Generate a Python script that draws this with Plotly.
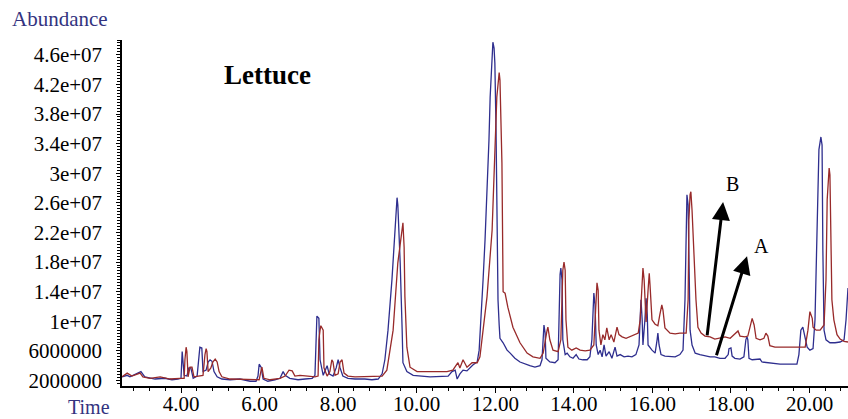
import plotly.graph_objects as go

# Total ion chromatograms of lettuce extracts (retention time in min, abundance in millions of counts)
time_a = [2.50, 2.63, 2.70, 2.91, 2.98, 3.08, 3.34, 3.59, 3.77, 3.92, 4.00, 4.03, 4.08, 4.15, 4.20, 4.25, 4.31,
          4.41, 4.46, 4.48, 4.53, 4.56, 4.64, 4.69, 4.74, 4.79, 4.84, 4.92, 5.04, 5.25, 5.50, 5.76, 5.91, 5.96,
          5.99, 6.04, 6.09, 6.21, 6.39, 6.52, 6.60, 6.65, 6.77, 6.98, 7.16, 7.34, 7.41, 7.44, 7.46, 7.51, 7.54,
          7.62, 7.72, 7.77, 7.87, 7.95, 8.00, 8.05, 8.12, 8.25, 8.43, 8.68, 8.86, 9.02, 9.12, 9.19, 9.27, 9.37,
          9.45, 9.50, 9.52, 9.58, 9.63, 9.65, 9.75, 9.91, 10.34, 10.59, 10.80, 10.90, 10.98, 11.03, 11.10, 11.18,
          11.28, 11.43, 11.54, 11.59, 11.64, 11.69, 11.74, 11.79, 11.84, 11.87, 11.92, 11.94, 11.97, 11.99, 12.02,
          12.04, 12.07, 12.10, 12.12, 12.20, 12.30, 12.38, 12.50, 12.63, 12.76, 12.88, 13.01, 13.14, 13.19, 13.22,
          13.24, 13.27, 13.29, 13.39, 13.52, 13.60, 13.62, 13.65, 13.67, 13.70, 13.72, 13.78, 13.83, 13.90, 13.98,
          14.06, 14.13, 14.23, 14.34, 14.41, 14.46, 14.49, 14.51, 14.54, 14.57, 14.62, 14.67, 14.72, 14.77, 14.82,
          14.90, 14.97, 15.05, 15.10, 15.18, 15.28, 15.38, 15.48, 15.58, 15.66, 15.69, 15.71, 15.74, 15.76, 15.81,
          15.84, 15.87, 15.89, 15.99, 16.07, 16.12, 16.14, 16.17, 16.22, 16.32, 16.45, 16.58, 16.70, 16.78, 16.83,
          16.86, 16.88, 16.91, 16.93, 16.96, 17.01, 17.09, 17.21, 17.34, 17.47, 17.59, 17.72, 17.85, 17.93, 17.95,
          18.00, 18.03, 18.10, 18.23, 18.33, 18.38, 18.41, 18.43, 18.46, 18.54, 18.66, 18.74, 18.79, 18.99, 19.25,
          19.50, 19.68, 19.73, 19.78, 19.83, 19.89, 19.94, 20.01, 20.09, 20.14, 20.19, 20.24, 20.29, 20.32, 20.34,
          20.37, 20.42, 20.52, 20.65, 20.78, 20.88, 20.93, 20.98]
abund_a = [2.5, 2.7, 2.5, 3.0, 3.2, 2.5, 2.2, 2.3, 2.1, 2.2, 2.3, 5.9, 2.7, 2.6, 3.7, 3.7, 2.3,
           2.6, 4.8, 6.5, 6.4, 3.2, 3.4, 4.5, 4.8, 4.6, 3.2, 2.5, 2.2, 2.1, 2.2, 1.9, 1.9, 2.6,
           4.2, 3.8, 2.2, 1.9, 2.1, 2.3, 3.2, 2.7, 2.3, 2.1, 2.2, 2.3, 2.7, 8.8, 10.7, 10.4, 4.8,
           2.7, 4.0, 2.9, 2.6, 3.7, 4.8, 3.7, 2.6, 2.3, 2.2, 2.2, 2.1, 2.2, 2.9, 4.8, 8.8, 15.6,
           23.3, 26.7, 25.7, 17.9, 8.8, 4.4, 3.2, 2.7, 2.5, 2.5, 2.6, 3.2, 3.4, 2.2, 2.9, 3.4,
           3.3, 4.1, 4.5, 6.1, 10.2, 15.6, 21.0, 26.8, 34.5, 40.3, 46.7, 47.7, 46.9, 44.9, 35.8,
           23.7, 12.9, 9.5, 7.7, 7.1, 6.1, 5.7, 5.0, 4.5, 4.2, 4.0, 3.8, 4.0, 4.8, 8.8,
           9.5, 8.4, 5.0, 4.5, 4.4, 4.8, 10.2, 16.3, 17.2, 15.6, 7.5, 5.5, 5.7, 5.2, 5.0,
           5.5, 4.9, 4.8, 4.8, 5.2, 7.5, 12.9, 13.8, 12.2, 6.8, 5.5, 6.1, 5.2, 6.8, 5.3,
           5.9, 5.0, 6.5, 5.3, 5.5, 5.2, 5.3, 5.2, 5.5, 6.8, 11.5, 12.9, 10.2, 6.8, 10.2,
           13.1, 10.9, 6.8, 6.1, 5.7, 7.5, 8.4, 6.8, 5.5, 5.3, 5.2, 5.2, 5.5, 6.1, 12.9,
           25.0, 27.1, 25.7, 15.6, 8.8, 6.8, 5.7, 5.5, 5.3, 5.2, 5.2, 5.0, 5.0, 5.5, 6.3,
           6.4, 5.3, 5.0, 4.9, 5.2, 7.5, 7.9, 7.5, 5.0, 4.8, 4.8, 4.9, 4.5, 4.4, 4.2,
           4.2, 4.2, 5.5, 8.8, 9.2, 7.7, 6.5, 6.1, 6.3, 10.2, 23.7, 33.2, 34.9, 33.8, 19.6,
           8.8, 7.5, 7.1, 7.1, 7.2, 7.5, 10.2, 14.5]

time_b = [2.50, 2.63, 2.75, 2.96, 3.03, 3.21, 3.47, 3.72, 3.97, 4.08, 4.10, 4.13, 4.15, 4.18, 4.23, 4.28, 4.33,
          4.43, 4.56, 4.61, 4.64, 4.66, 4.69, 4.76, 4.81, 4.87, 4.92, 4.97, 5.04, 5.25, 5.50, 5.76, 5.99, 6.04,
          6.06, 6.11, 6.27, 6.52, 6.65, 6.75, 6.83, 6.90, 7.03, 7.23, 7.41, 7.49, 7.51, 7.54, 7.56, 7.62, 7.64,
          7.72, 7.79, 7.84, 7.87, 7.92, 8.00, 8.05, 8.10, 8.15, 8.25, 8.43, 8.68, 8.94, 9.12, 9.24, 9.32, 9.40,
          9.52, 9.63, 9.65, 9.68, 9.70, 9.75, 9.83, 10.01, 10.77, 10.92, 11.00, 11.05, 11.10, 11.18, 11.28, 11.41,
          11.54, 11.61, 11.69, 11.79, 11.92, 11.99, 12.04, 12.10, 12.12, 12.17, 12.20, 12.25, 12.32, 12.45, 12.63,
          12.81, 12.96, 13.14, 13.22, 13.32, 13.34, 13.39, 13.47, 13.60, 13.67, 13.72, 13.75, 13.78, 13.80, 13.85,
          13.95, 14.06, 14.16, 14.29, 14.41, 14.51, 14.57, 14.59, 14.62, 14.64, 14.69, 14.74, 14.79, 14.84, 14.90,
          14.95, 15.02, 15.07, 15.10, 15.15, 15.23, 15.33, 15.43, 15.53, 15.64, 15.69, 15.74, 15.76, 15.79, 15.84,
          15.89, 15.92, 15.94, 15.99, 16.07, 16.14, 16.19, 16.24, 16.27, 16.32, 16.45, 16.58, 16.70, 16.86, 16.91,
          16.93, 16.96, 16.98, 17.01, 17.06, 17.11, 17.16, 17.24, 17.34, 17.47, 17.59, 17.72, 17.85, 17.98, 18.10,
          18.18, 18.23, 18.36, 18.43, 18.51, 18.54, 18.59, 18.64, 18.74, 18.84, 18.89, 18.94, 18.99, 19.12, 19.50,
          19.89, 19.96, 20.01, 20.07, 20.09, 20.17, 20.27, 20.37, 20.42, 20.45, 20.50, 20.52, 20.55, 20.57, 20.62,
          20.70, 20.78, 20.88, 20.98]
abund_b = [2.5, 3.0, 2.6, 3.0, 2.5, 2.3, 2.5, 2.2, 2.3, 2.3, 4.8, 6.5, 5.9, 2.5, 3.8, 3.8, 2.5,
           2.6, 2.7, 5.5, 6.3, 5.9, 3.2, 3.7, 4.5, 4.9, 4.5, 3.2, 2.5, 2.2, 2.2, 2.1, 2.1, 3.4,
           3.8, 2.3, 2.1, 2.3, 2.6, 3.4, 3.3, 2.6, 2.7, 2.6, 2.5, 2.6, 7.5, 8.8, 9.4, 8.8, 3.7,
           2.6, 3.2, 4.8, 4.5, 2.7, 2.9, 4.5, 4.8, 3.0, 2.6, 2.5, 2.5, 2.5, 2.6, 3.4, 6.1, 8.8,
           17.9, 22.3, 23.3, 20.0, 13.3, 6.5, 3.8, 3.2, 3.2, 3.4, 4.1, 4.4, 3.7, 4.8, 3.8, 4.4,
           4.4, 5.2, 8.8, 13.3, 22.3, 31.4, 40.3, 43.6, 42.6, 31.4, 14.0, 13.8, 11.9, 9.2, 7.1,
           5.7, 5.2, 5.0, 5.7, 8.8, 9.2, 7.5, 6.1, 5.9, 7.5, 16.9, 18.0, 16.9, 10.2, 6.5,
           6.1, 6.4, 6.1, 6.0, 6.1, 6.8, 14.2, 15.2, 14.2, 8.8, 6.8, 8.2, 7.5, 9.1, 7.5,
           8.2, 7.2, 8.8, 9.2, 8.2, 7.9, 7.7, 7.9, 8.2, 8.4, 10.2, 16.3, 17.2, 15.6, 9.9,
           14.2, 16.5, 14.9, 10.2, 9.6, 9.4, 10.9, 12.2, 11.5, 9.1, 8.4, 8.3, 8.4, 8.4, 12.9,
           23.7, 27.1, 27.5, 25.0, 18.3, 12.9, 9.2, 8.4, 8.0, 7.9, 7.6, 7.7, 7.9, 7.7, 8.3,
           8.7, 8.0, 7.9, 8.0, 9.9, 10.4, 9.5, 7.7, 7.5, 7.7, 8.4, 8.0, 6.7, 6.5, 6.5,
           6.5, 8.8, 11.3, 10.4, 9.2, 8.8, 8.8, 9.5, 15.6, 26.4, 30.7, 29.8, 21.0, 12.9, 10.2,
           8.2, 7.6, 7.3, 7.2]

y_tick_values = [2e6, 6e6, 1e7, 1.4e7, 1.8e7, 2.2e7, 2.6e7, 3e7, 3.4e7, 3.8e7, 4.2e7, 4.6e7]
y_tick_labels = ["2000000", "6000000", "1e+07", "1.4e+07", "1.8e+07", "2.2e+07",
                 "2.6e+07", "3e+07", "3.4e+07", "3.8e+07", "4.2e+07", "4.6e+07"]
x_tick_values = [4, 6, 8, 10, 12, 14, 16, 18, 20]
x_tick_labels = ["4.00", "6.00", "8.00", "10.00", "12.00", "14.00", "16.00", "18.00", "20.00"]

MILLION = 1e6
SERIF = "Liberation Serif"
AXIS_TITLE_COLOR = "#33337f"

fig = go.Figure()
fig.add_trace(go.Scatter(x=time_a, y=[v * MILLION for v in abund_a], mode="lines",
                         line=dict(color="#2e2e8e", width=1.3), name="A", showlegend=False))
fig.add_trace(go.Scatter(x=time_b, y=[v * MILLION for v in abund_b], mode="lines",
                         line=dict(color="#982a2a", width=1.3), name="B", showlegend=False))

# Arrows pointing at the two traces, with their letters
arrows = [
    dict(tail=(17.39, 7.9e6), head=(17.80, 26.1e6), label="B", label_pos=(18.05, 28.5e6)),
    dict(tail=(17.62, 5.2e6), head=(18.41, 18.8e6), label="A", label_pos=(18.77, 20.2e6)),
]
for arr in arrows:
    fig.add_annotation(x=arr["head"][0], y=arr["head"][1], ax=arr["tail"][0], ay=arr["tail"][1],
                       xref="x", yref="y", axref="x", ayref="y", text="", showarrow=True,
                       arrowhead=2, arrowsize=1.2, arrowwidth=3, arrowcolor="black")
    fig.add_annotation(x=arr["label_pos"][0], y=arr["label_pos"][1], xref="x", yref="y",
                       text=arr["label"], showarrow=False, font=dict(family=SERIF, size=20, color="black"))

# Sample name inside the plot area, axis captions outside it (paper fractions of the plot area)
fig.add_annotation(x=0.1377, y=0.899, xref="paper", yref="paper", xanchor="left", yanchor="middle",
                   text="<b>Lettuce</b>", showarrow=False,
                   font=dict(family=SERIF, size=27, color="black"))
fig.add_annotation(x=-0.154, y=1.061, xref="paper", yref="paper", xanchor="left", yanchor="middle",
                   text="Abundance", showarrow=False, font=dict(family=SERIF, size=21, color=AXIS_TITLE_COLOR))
fig.add_annotation(x=-0.0771, y=-0.061, xref="paper", yref="paper", xanchor="left", yanchor="middle",
                   text="Time", showarrow=False, font=dict(family=SERIF, size=20, color=AXIS_TITLE_COLOR))

fig.update_layout(
    width=848, height=419,
    margin=dict(l=122, r=0, t=40, b=33),
    paper_bgcolor="white", plot_bgcolor="white",
    font=dict(family=SERIF, size=21, color="black"),
)
fig.update_xaxes(
    range=[2.498, 20.98], showgrid=False, zeroline=False, automargin=False,
    showline=True, linecolor="black", linewidth=1.5,
    tickvals=x_tick_values, ticktext=x_tick_labels,
    ticks="outside", ticklen=5, tickcolor="black", ticklabelstandoff=-7,
    minor=dict(dtick=0.4, tick0=0, ticks="outside", ticklen=3, tickcolor="black"),
    tickfont=dict(family=SERIF, size=21, color="black"),
)
fig.update_yaxes(
    range=[1.257e6, 48.0e6], showgrid=False, zeroline=False, automargin=False,
    showline=True, linecolor="black", linewidth=1.5,
    tickvals=y_tick_values, ticktext=y_tick_labels,
    ticks="outside", ticklen=4, tickcolor="black", ticklabelstandoff=10,
    minor=dict(dtick=4e5, tick0=0, ticks="outside", ticklen=3, tickcolor="black"),
    tickfont=dict(family=SERIF, size=21, color="black"),
)

fig.write_html("out.html")
